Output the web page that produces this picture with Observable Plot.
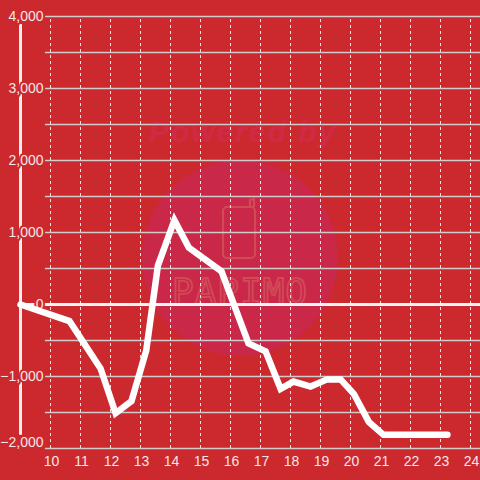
<!DOCTYPE html>
<html>
<head>
<meta charset="utf-8">
<script src="https://cdn.jsdelivr.net/npm/d3@7"></script>
<script src="https://cdn.jsdelivr.net/npm/@observablehq/plot@0.6"></script>
<style>
  html, body { margin: 0; padding: 0; background: #cc292e; }
  #wrap { position: relative; width: 480px; height: 480px; overflow: hidden; }
  #wm, #chart { position: absolute; left: 0; top: 0; }
</style>
</head>
<body>
<div id="wrap">
  <svg id="wm" width="480" height="480">
    <circle cx="240" cy="258" r="98" fill="#c92848"></circle>
    <text x="243" y="142" text-anchor="middle" font-family="Liberation Sans, Arial, sans-serif" font-weight="bold" font-style="italic" font-size="30" fill="#cf2a46" letter-spacing="2">Powered by</text>
    <rect x="223" y="207" width="32" height="51" rx="4" fill="none" stroke="#d24a58" stroke-width="2.2"></rect>
    <path d="M250 207 L250 200 L254 199 L254 207" fill="none" stroke="#d24a58" stroke-width="2.2"></path>
    <text x="240" y="304" text-anchor="middle" font-family="DejaVu Sans Mono, monospace" font-size="36" fill="none" stroke="#d24a58" stroke-width="1.8" letter-spacing="1">PAPIMO</text>
  </svg>
  <div id="chart"></div>
</div>
<script>
// Data
const hours  = [9.0, 10.63, 11.67, 12.17, 12.7, 13.19, 13.58, 14.13, 14.61, 15.7, 16.6, 17.17, 17.67, 18.1, 18.67, 19.22, 19.67, 20.11, 20.61, 21.1, 23.23];
const values = [0, -230, -890, -1510, -1340, -640, 540, 1170, 790, 460, -540, -650, -1170, -1070, -1140, -1040, -1040, -1240, -1630, -1810, -1810];

const xTicks = [10, 11, 12, 13, 14, 15, 16, 17, 18, 19, 20, 21, 22, 23, 24];
const yTicks = [-2000, -1000, 0, 1000, 2000, 3000, 4000];
const yGrid  = [-2000, -1500, -1000, -500, 500, 1000, 1500, 2000, 2500, 3000, 3500, 4000];

const xDomain = [9, 24.333];
const yDomain = [-2000, 4000];
const gridStart = 9.83;
const axisSpan = [-1815, 3890];

const data = hours.map((h, i) => ({h, v: values[i]}));
const bg = "#cc292e";
const labelColor = "#f6e6e6";

const chart = Plot.plot({
  width: 480,
  height: 480,
  marginLeft: 20,
  marginRight: 0,
  marginTop: 16,
  marginBottom: 32,
  style: {background: "transparent", fontFamily: "Liberation Sans, Arial, sans-serif", fontSize: "14px", overflow: "visible"},
  x: {domain: xDomain, axis: null},
  y: {domain: yDomain, axis: null},
  marks: [
    Plot.ruleX(xTicks, {x: d => d, y1: yDomain[0], y2: yDomain[1], stroke: "#eee6e6", strokeWidth: 1, strokeDasharray: "3,3"}),
    Plot.ruleY(yGrid, {y: d => d, x1: gridStart, x2: xDomain[1], stroke: "#d0cccc", strokeWidth: 1.5}),
    Plot.ruleY([0], {y: d => d, x1: xDomain[0], x2: xDomain[1], stroke: "#f8f4f4", strokeWidth: 3}),
    Plot.ruleX([xDomain[0]], {x: d => d, y1: axisSpan[0], y2: axisSpan[1], stroke: "#f2eeee", strokeWidth: 3}),
    Plot.text(yTicks.filter(d => d !== yDomain[0]), {x: xDomain[0], y: d => d, text: d => d3.format(",")(d), dx: 23, textAnchor: "end", fill: labelColor, stroke: bg, strokeWidth: 4, fontSize: 14}),
    Plot.text([yDomain[0]], {x: xDomain[0], y: d => d, text: d => d3.format(",")(d), dx: 23, dy: -6, textAnchor: "end", fill: labelColor, stroke: bg, strokeWidth: 4, fontSize: 14}),
    Plot.text(xTicks, {x: d => d, y: yDomain[0], text: d => String(d), dx: 1, dy: 13, textAnchor: "middle", fill: labelColor, fontSize: 14}),
    Plot.line(data, {x: "h", y: "v", stroke: "white", strokeWidth: 6.5, strokeLinejoin: "miter", strokeMiterlimit: 6})
  ]
});
document.getElementById("chart").appendChild(chart);
</script>
</body>
</html>
